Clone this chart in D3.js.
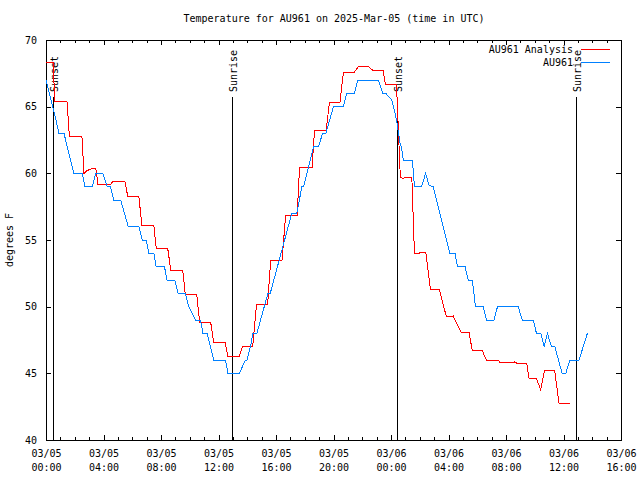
<!DOCTYPE html>
<html>
<head>
<meta charset="utf-8">
<script src="https://cdn.jsdelivr.net/npm/d3@7"></script>
<style>
  html, body { margin: 0; padding: 0; background: #fff; }
  svg { display: block; }
  text { font-family: "DejaVu Sans Mono", monospace; font-size: 10px; fill: #000; }
</style>
</head>
<body>
<svg id="chart" width="640" height="480"></svg>
<script>
// ---------------- DATA ----------------
const titleText = "Temperature for AU961 on 2025-Mar-05 (time in UTC)";
const yLabel = "degrees F";
const seriesNames = ["AU961 Analysis", "AU961"];
const startDay = "2025-03-05T00:00:00Z";
// hours after start
const analysisHours = [0, 0.52, 0.59, 1.46, 1.63, 2.5, 2.64, 2.85, 3.19, 3.47, 3.61, 4.51, 4.65, 5.49, 5.69, 6.46, 6.67, 7.5, 7.67, 8.47, 8.68, 9.51, 9.69, 10.49, 10.69, 11.46, 11.67, 12.47, 12.64, 13.44, 13.68, 14.38, 14.65, 15.42, 15.63, 16.42, 16.67, 17.47, 17.64, 18.51, 18.68, 19.48, 19.72, 20.45, 20.69, 21.46, 21.74, 22.43, 22.71, 23.44, 23.61, 24.38, 24.65, 24.83, 25.0, 25.45, 25.63, 25.97, 26.04, 26.42, 26.74, 27.36, 27.85, 28.33, 28.89, 29.44, 29.65, 30.35, 30.63, 31.46, 31.6, 32.5, 32.6, 32.78, 33.44, 33.61, 34.13, 34.41, 34.69, 35.38, 35.69, 36.42];
const analysisTemps = [68.35, 68.35, 65.4, 65.4, 62.75, 62.75, 60.0, 60.2, 60.35, 60.35, 59.2, 59.2, 59.4, 59.4, 58.25, 58.25, 56.1, 56.1, 54.35, 54.35, 52.75, 52.75, 50.9, 50.9, 48.8, 48.8, 47.3, 47.3, 46.3, 46.3, 47.05, 47.05, 50.2, 50.2, 53.5, 53.5, 56.85, 56.85, 60.45, 60.45, 63.2, 63.2, 65.3, 65.3, 67.6, 67.6, 68.0, 68.0, 67.75, 67.75, 66.7, 66.7, 59.7, 59.6, 59.7, 59.7, 54.0, 54.0, 54.1, 54.1, 51.3, 51.3, 49.25, 49.3, 48.05, 48.05, 46.7, 46.7, 46.0, 46.0, 45.8, 45.8, 45.85, 45.75, 45.75, 44.6, 44.6, 43.75, 45.25, 45.25, 42.75, 42.75];

const obsHours = [0, 0.23, 0.46, 0.69, 0.9, 1.25, 1.94, 2.52, 2.71, 3.22, 3.45, 3.96, 4.26, 4.49, 4.72, 5.19, 5.72, 6.46, 6.69, 6.97, 7.15, 7.5, 7.66, 8.24, 8.42, 8.96, 9.19, 9.7, 9.93, 10.4, 10.74, 10.92, 11.2, 11.67, 12.48, 12.66, 13.45, 13.87, 13.98, 14.22, 14.4, 14.67, 15.44, 15.6, 17.1, 17.45, 17.8, 17.92, 18.61, 18.96, 19.24, 19.47, 20.0, 20.69, 20.92, 21.46, 21.69, 23.13, 23.42, 23.63, 24.05, 24.28, 24.4, 24.63, 24.74, 24.86, 25.49, 25.63, 26.13, 26.41, 26.65, 26.94, 27.52, 28.1, 28.45, 28.63, 29.15, 29.38, 29.65, 29.88, 30.42, 30.65, 31.16, 31.41, 32.85, 33.13, 33.89, 34.12, 34.42, 34.65, 34.88, 35.16, 35.4, 35.9, 36.16, 36.44, 37.08, 37.66];
const obsTemps = [67, 66, 65, 64, 63, 63, 60, 60, 59, 59, 60, 60, 59, 59, 58, 58, 56, 56, 55, 55, 54, 54, 53, 53, 52, 52, 51, 51, 50, 49, 49, 48, 48, 46, 46, 45, 45, 46, 46, 47, 48, 48, 51, 51, 57, 57, 59, 59, 62, 62, 63, 63, 65, 65, 66, 66, 67, 67, 66, 66, 65.5, 64.5, 63.9, 62.25, 61.9, 61, 61, 59, 59, 60, 59.1, 59, 56.5, 54, 54, 53, 53, 52, 52, 50, 50, 49, 49, 50, 50, 49, 49, 48, 48, 47, 48, 47, 47, 45, 45, 46, 46, 48];

const sunEventNames = ["Sunset", "Sunrise", "Sunset", "Sunrise"];
const sunEventHours = [0.47, 12.92, 24.45, 36.9];

const xMajorHours = [0, 4, 8, 12, 16, 20, 24, 28, 32, 36, 40];
const yTicks = [40, 45, 50, 55, 60, 65, 70];
const colors = ["#ff0000", "#0080ff"];

// ---------------- LAYOUT ----------------
(function () {
const svg = d3.select("#chart");
const pL = 46, pR = 621, pT = 40, pB = 440;
const t0 = new Date(startDay).getTime();
const toDate = h => new Date(t0 + h * 3600e3);

const x = d3.scaleUtc().domain([toDate(0), toDate(40)]).range([pL, pR]);
const y = d3.scaleLinear().domain([40, 70]).range([pB, pT]);

svg.append("rect")
  .attr("x", pL + 0.5).attr("y", pT + 0.5)
  .attr("width", pR - pL).attr("height", pB - pT)
  .attr("fill", "none").attr("stroke", "#000").attr("shape-rendering", "crispEdges");

const hourTicks = d3.range(0, 41).map(toDate);
const majorDates = xMajorHours.map(toDate);
const fmtDate = d3.utcFormat("%m/%d");
const fmtTime = d3.utcFormat("%H:%M");

function styleAxis(g) {
  g.select(".domain").remove();
  g.selectAll("line").attr("stroke", "#000").attr("shape-rendering", "crispEdges");
  g.attr("font-family", null).attr("font-size", null);
}

svg.append("g").attr("transform", `translate(0,${pB})`)
  .call(d3.axisBottom(x).tickValues(hourTicks).tickSize(-3).tickSizeOuter(0).tickFormat(""))
  .call(styleAxis);
svg.append("g").attr("transform", `translate(0,${pT})`)
  .call(d3.axisTop(x).tickValues(hourTicks).tickSize(-3).tickSizeOuter(0).tickFormat(""))
  .call(styleAxis);
svg.append("g").attr("transform", `translate(0,${pT})`)
  .call(d3.axisTop(x).tickValues(majorDates).tickSize(-5).tickSizeOuter(0).tickFormat(""))
  .call(styleAxis);

const xAxisG = svg.append("g").attr("transform", `translate(0,${pB})`)
  .call(d3.axisBottom(x).tickValues(majorDates).tickSize(-5).tickSizeOuter(0).tickPadding(10).tickFormat(fmtDate))
  .call(styleAxis);
xAxisG.selectAll(".tick text").each(function(d) {
  const t = d3.select(this);
  t.text(null);
  t.append("tspan").attr("x", 0).text(fmtDate(d));
  t.append("tspan").attr("x", 0).attr("dy", "14").text(fmtTime(d));
});

svg.append("g").attr("transform", `translate(${pL},0)`)
  .call(d3.axisLeft(y).tickValues(yTicks).tickSize(-5).tickSizeOuter(0).tickPadding(9).tickFormat(d3.format("d")))
  .call(styleAxis);
svg.append("g").attr("transform", `translate(${pR},0)`)
  .call(d3.axisRight(y).tickValues(yTicks).tickSize(-5).tickSizeOuter(0).tickFormat(""))
  .call(styleAxis);

svg.append("text").attr("x", (pL + pR) / 2 + 0.5).attr("y", 22)
  .attr("text-anchor", "middle").text(titleText);
svg.append("text").attr("transform", `translate(13,${(pT + pB) / 2}) rotate(-90)`)
  .attr("text-anchor", "middle").text(yLabel);

const sunTopY = 97, sunTextY = 92;
sunEventHours.forEach((h, i) => {
  const xp = Math.round(x(toDate(h))) + 0.5;
  svg.append("line").attr("x1", xp).attr("x2", xp)
    .attr("y1", sunTopY).attr("y2", pB)
    .attr("stroke", "#000").attr("shape-rendering", "crispEdges");
  svg.append("text").attr("transform", `translate(${xp + 4.5},${sunTextY}) rotate(-90)`)
    .attr("text-anchor", "start").text(sunEventNames[i]);
});

const line = d3.line().x(d => x(toDate(d[0]))).y(d => y(d[1]));
const analysis = analysisHours.map((h, i) => [h, analysisTemps[i]]);
const obs = obsHours.map((h, i) => [h, obsTemps[i]]);
[analysis, obs].forEach((data, i) => {
  svg.append("path").datum(data).attr("d", line)
    .attr("fill", "none").attr("stroke", colors[i]).attr("stroke-width", 1)
    .attr("shape-rendering", "crispEdges");
});

const legendY = [49.5, 62.5];
seriesNames.forEach((name, i) => {
  svg.append("text").attr("x", 573).attr("y", legendY[i] + 3.5)
    .attr("text-anchor", "end").text(name);
  svg.append("line").attr("x1", 581).attr("x2", 610)
    .attr("y1", legendY[i]).attr("y2", legendY[i])
    .attr("stroke", colors[i]).attr("shape-rendering", "crispEdges");
});
})();
</script>
</body>
</html>
